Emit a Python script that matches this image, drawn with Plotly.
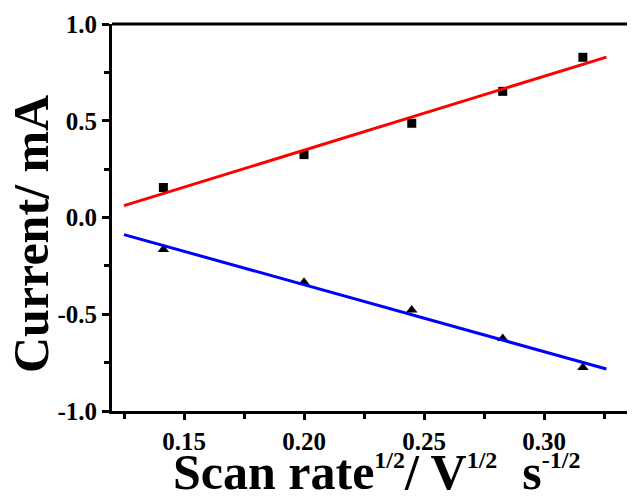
import numpy as np
import plotly.graph_objects as go

scan_rate_sqrt = [0.1414, 0.2000, 0.2449, 0.2828, 0.3162]
anodic_current = [0.155, 0.325, 0.487, 0.652, 0.828]
cathodic_current = [-0.165, -0.335, -0.478, -0.625, -0.775]
fit_x_range = [0.125, 0.326]
x_ticks = [0.15, 0.20, 0.25, 0.30]
y_ticks = [-1.0, -0.5, 0.0, 0.5, 1.0]
sup = '<sup><span style="font-size:24px">%s</span></sup>'
x_title = "<b>Scan rate" + sup % "1/2" + "/ V" + sup % "1/2" + "  s" + sup % "-1/2" + "</b>"
y_title = "<b>Current/ mA</b>"

pa = np.polyfit(scan_rate_sqrt, anodic_current, 1)
pc = np.polyfit(scan_rate_sqrt, cathodic_current, 1)
fx = np.array(fit_x_range)

fig = go.Figure()
fig.add_trace(go.Scatter(x=scan_rate_sqrt, y=anodic_current, mode="markers",
                         marker=dict(symbol="square", size=9, color="black"), showlegend=False))
fig.add_trace(go.Scatter(x=scan_rate_sqrt, y=cathodic_current, mode="markers",
                         marker=dict(symbol="triangle-up", size=10, color="black"), showlegend=False))
fig.add_trace(go.Scatter(x=fx, y=np.polyval(pa, fx), mode="lines",
                         line=dict(color="#ff0000", width=3), showlegend=False))
fig.add_trace(go.Scatter(x=fx, y=np.polyval(pc, fx), mode="lines",
                         line=dict(color="#0000ff", width=3), showlegend=False))

tickfont = dict(family="Liberation Serif", size=25, color="black")
titlefont = dict(family="Liberation Serif", size=50, color="black")

W, H = 635, 497
L, T, R, B = 104, 16, 0, 94
pw, ph = W - L - R, H - T - B

fig.update_layout(
    width=W, height=H,
    margin=dict(l=L, r=R, t=T, b=B),
    paper_bgcolor="white", plot_bgcolor="white",
    font=dict(family="Liberation Serif"),
    xaxis=dict(range=[0.12, 0.34125], tickvals=x_ticks, ticktext=["<b>%.2f</b>" % v for v in x_ticks],
               showline=True, linecolor="black", linewidth=3, mirror=False, automargin=False,
               ticks="outside", ticklen=6, tickwidth=3, tickcolor="black",
               minor=dict(tickvals=[0.125, 0.175, 0.225, 0.275, 0.325], ticks="outside",
                          ticklen=5, tickwidth=3, tickcolor="black"),
               showgrid=False, zeroline=False, tickfont=tickfont),
    yaxis=dict(range=[-1.0, 1.0], tickvals=y_ticks, ticktext=["<b>%.1f</b>" % v for v in y_ticks],
               showline=True, linecolor="black", linewidth=3, mirror=False, automargin=False,
               ticks="outside", ticklen=7, tickwidth=3, tickcolor="black",
               minor=dict(tickvals=[-0.75, -0.25, 0.25, 0.75], ticks="outside",
                          ticklen=5, tickwidth=3, tickcolor="black"),
               showgrid=False, zeroline=False, tickfont=tickfont),
)
fig.add_shape(type="line", xref="paper", yref="paper", x0=0, x1=1, y0=1, y1=1,
              line=dict(color="black", width=3))
fig.add_annotation(text=x_title, xref="paper", yref="paper", x=(368 - L) / pw, y=(H - B - 464) / ph,
                   xanchor="center", yanchor="middle", showarrow=False, font=titlefont)
fig.add_annotation(text=y_title, xref="paper", yref="paper", x=(23 - L) / pw, y=(H - B - 226) / ph,
                   xanchor="center", yanchor="middle", textangle=-90, showarrow=False, font=titlefont)
fig.write_html("out.html")
